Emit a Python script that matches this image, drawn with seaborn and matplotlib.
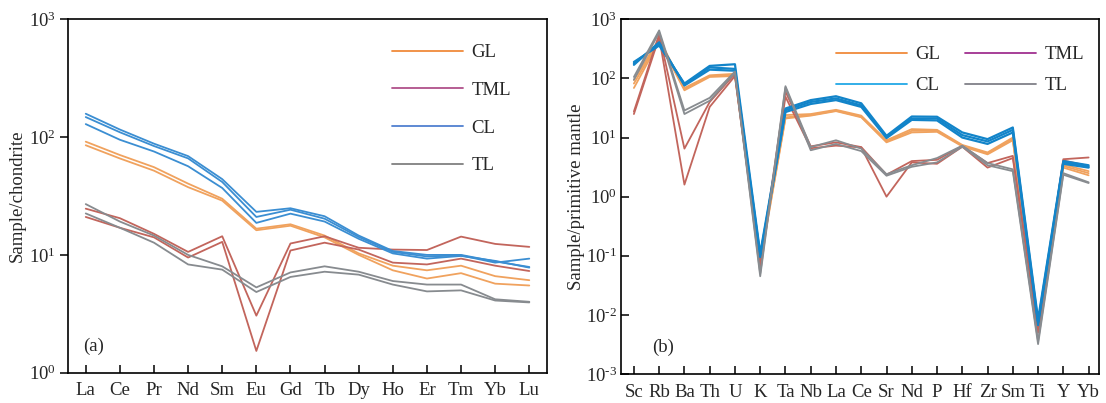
import numpy as np
import pandas as pd
import matplotlib
matplotlib.use("Agg")
import matplotlib.pyplot as plt
from matplotlib.lines import Line2D
from matplotlib.ticker import FuncFormatter, NullLocator
import seaborn as sns

# ---- chondrite-normalised REE (panel a) ----
ree = ["La", "Ce", "Pr", "Nd", "Sm", "Eu", "Gd", "Tb", "Dy", "Ho", "Er", "Tm", "Yb", "Lu"]

ree_GL1 = [91.5, 70.5, 55.6, 40.3, 30.0, 16.7, 18.2, 14.6, 10.3, 8.1, 7.4, 8.1, 6.6, 6.1]
ree_GL2 = [85.3, 65.9, 51.9, 37.6, 28.9, 16.2, 17.7, 14.1, 10.0, 7.4, 6.3, 7.0, 5.7, 5.5]
ree_TML1 = [24.7, 20.5, 15.1, 10.6, 14.4, 3.05, 12.5, 14.4, 11.5, 11.1, 11.0, 14.3, 12.4, 11.7]
ree_TML2 = [21.0, 17.0, 14.1, 9.5, 12.9, 1.53, 10.9, 12.7, 11.1, 8.6, 8.3, 9.3, 8.1, 7.3]
ree_CL1 = [158, 116, 88, 69, 44, 23.2, 24.9, 21.3, 14.6, 10.8, 10.0, 10.0, 8.8, 7.9]
ree_CL2 = [148, 110, 84, 66, 41.6, 21.0, 24.2, 20.3, 14.2, 10.6, 9.7, 9.9, 8.6, 9.3]
ree_CL3 = [129, 95, 75.5, 56.6, 37.0, 18.7, 22.4, 19.2, 13.7, 10.3, 9.3, 9.8, 8.9, 7.8]
ree_TL1 = [27.0, 19.2, 14.6, 10.0, 8.0, 5.3, 7.1, 8.0, 7.2, 6.0, 5.6, 5.6, 4.2, 4.0]
ree_TL2 = [22.5, 17.0, 12.7, 8.3, 7.5, 4.84, 6.5, 7.2, 6.8, 5.6, 4.9, 5.0, 4.1, 3.95]

# ---- primitive-mantle-normalised trace elements (panel b) ----
trace = ["Sc", "Rb", "Ba", "Th", "U", "K", "Ta", "Nb", "La", "Ce", "Sr", "Nd", "P", "Hf",
         "Zr", "Sm", "Ti", "Y", "Yb"]

tr_GL1 = [94, 466, 69, 113, 120, 0.085, 24, 25, 29.5, 23.5, 9.0, 13.9, 13.5, 7.5, 5.6, 10.0, 0.0058, 3.5, 2.7]
tr_GL2 = [82, 440, 66, 110, 115, 0.080, 22, 24, 28.5, 22.5, 8.6, 13.0, 13.0, 7.3, 5.4, 9.4, 0.0053, 3.3, 2.5]
tr_GL3 = [69, 420, 63, 106, 110, 0.075, 21, 23.5, 28.0, 22.0, 8.3, 12.2, 12.5, 7.1, 5.2, 9.0, 0.0050, 3.1, 2.3]
tr_TML1 = [27.6, 560, 6.5, 40, 120, 0.070, 60, 7.1, 8.3, 6.9, 2.35, 4.0, 4.2, 7.2, 3.7, 4.9, 0.0055, 4.3, 4.6]
tr_TML2 = [25.0, 500, 1.6, 33, 110, 0.065, 49, 6.6, 7.3, 6.8, 1.0, 3.8, 3.6, 7.0, 3.1, 4.5, 0.0050, 4.1, 3.3]
tr_CL1 = [190, 360, 82, 163, 174, 0.110, 31, 43, 50, 38, 10.7, 22.7, 22.5, 12.2, 9.4, 14.8, 0.0084, 4.0, 3.4]
tr_CL2 = [180, 390, 79, 154, 145, 0.100, 29, 40, 46, 35, 10.2, 21.0, 21.0, 11.0, 8.6, 13.5, 0.0075, 3.8, 3.2]
tr_CL3 = [170, 410, 76, 141, 135, 0.095, 27, 37, 43, 33, 9.8, 19.9, 19.5, 10.0, 7.8, 12.2, 0.0067, 3.6, 3.1]
tr_TL1 = [106, 650, 28.7, 47, 131, 0.050, 74, 6.9, 9.0, 6.5, 2.4, 3.4, 4.5, 7.3, 3.7, 2.9, 0.0036, 2.5, 1.75]
tr_TL2 = [95, 600, 25.0, 42, 125, 0.045, 70, 6.1, 7.8, 5.9, 2.26, 3.2, 3.8, 7.0, 3.4, 2.7, 0.0032, 2.35, 1.7]

groups = ["GL", "TML", "CL", "TL"]

ree_samples = {
    "GL": [ree_GL1, ree_GL2],
    "TML": [ree_TML1, ree_TML2],
    "CL": [ree_CL1, ree_CL2, ree_CL3],
    "TL": [ree_TL1, ree_TL2],
}
trace_samples = {
    "GL": [tr_GL1, tr_GL2, tr_GL3],
    "TML": [tr_TML1, tr_TML2],
    "CL": [tr_CL1, tr_CL2, tr_CL3],
    "TL": [tr_TL1, tr_TL2],
}


def to_long(elements, samples):
    rows = []
    for g, series in samples.items():
        for k, vals in enumerate(series):
            for i, (el, v) in enumerate(zip(elements, vals)):
                rows.append({"pos": i, "element": el, "value": v,
                             "group": g, "sample": f"{g}{k + 1}"})
    return pd.DataFrame(rows)


def decade_label(v, _pos):
    # power-of-ten label with a short hyphen for negative exponents
    e = int(round(np.log10(v)))
    exp = str(e).replace("-", "\u2010")
    return f"$10^{{{exp}}}$"


df_a = to_long(ree, ree_samples)
df_b = to_long(trace, trace_samples)

line_pal_a = {"GL": "#F0A25E", "TML": "#C2655C", "CL": "#3B8ED2", "TL": "#878B8F"}
line_pal_b = {"GL": "#F0A25E", "TML": "#C2655C", "CL": "#1284C9", "TL": "#888C90"}
legend_pal_a = {"GL": "#F08A3A", "TML": "#B0508A", "CL": "#5080D0", "TL": "#808080"}
legend_pal_b = {"GL": "#F08A3A", "TML": "#A03090", "CL": "#22A8E6", "TL": "#808088"}

sns.set_theme(style="white")
plt.rcParams["font.family"] = ["Liberation Serif", "DejaVu Serif"]
plt.rcParams["mathtext.fontset"] = "custom"
plt.rcParams["mathtext.rm"] = "Liberation Serif"
plt.rcParams["mathtext.it"] = "Liberation Serif:italic"
plt.rcParams["axes.edgecolor"] = "black"
plt.rcParams["axes.linewidth"] = 1.2

fig = plt.figure(figsize=(11.06, 4.03), dpi=100)
ax_a = fig.add_axes([0.0618, 0.0752, 0.4328, 0.8768])
ax_b = fig.add_axes([0.5615, 0.0720, 0.4319, 0.8800])

FS = 13.5

# ---- panel (a) ----
for g in groups:
    sub = df_a[df_a.group == g]
    sns.lineplot(data=sub, x="pos", y="value", units="sample", estimator=None,
                 color=line_pal_a[g], lw=1.3, ax=ax_a, legend=False)
ax_a.set_yscale("log")
ax_a.set_ylim(1, 1000)
ax_a.set_xlim(-0.51, len(ree) - 0.48)
ax_a.set_xticks(range(len(ree)))
ax_a.set_xticklabels(ree)
ax_a.set_yticks([1, 10, 100, 1000])
ax_a.yaxis.set_major_formatter(FuncFormatter(decade_label))
ax_a.yaxis.set_minor_locator(NullLocator())
ax_a.tick_params(axis="x", direction="in", length=6, width=1.1, labelsize=FS, pad=7,
                 bottom=True, color="black")
ax_a.tick_params(axis="y", direction="out", length=6, width=1.1, labelsize=FS, left=True,
                 color="black", pad=3)
ax_a.set_xlabel("")
ax_a.set_ylabel("Sample/chondrite", fontsize=FS)
ax_a.yaxis.set_label_coords(-0.088, 0.5)
ax_a.text(0.03, 0.05, "(a)", transform=ax_a.transAxes, fontsize=FS, ha="left", va="bottom")
handles_a = [Line2D([], [], color=legend_pal_a[g], lw=1.3) for g in groups]
ax_a.legend(handles_a, groups, loc="upper left", bbox_to_anchor=(0.676, 0.93),
            frameon=False, fontsize=FS, handlelength=3.8, handletextpad=0.45,
            labelspacing=1.1, borderpad=0, borderaxespad=0)

# ---- panel (b) ----
for g in groups:
    sub = df_b[df_b.group == g]
    sns.lineplot(data=sub, x="pos", y="value", units="sample", estimator=None,
                 color=line_pal_b[g], lw=1.6 if g == "CL" else 1.3, ax=ax_b, legend=False)
ax_b.set_yscale("log")
ax_b.set_ylim(1e-3, 1e3)
ax_b.set_xlim(-0.51, len(trace) - 0.6)
ax_b.set_xticks(range(len(trace)))
ax_b.set_xticklabels(trace)
ax_b.set_yticks([1e-3, 1e-2, 1e-1, 1, 10, 100, 1000])
ax_b.yaxis.set_major_formatter(FuncFormatter(decade_label))
ax_b.yaxis.set_minor_locator(NullLocator())
ax_b.tick_params(axis="x", direction="in", length=6, width=1.1, labelsize=FS, pad=7,
                 bottom=True, color="black")
ax_b.tick_params(axis="y", direction="in", length=6, width=1.1, labelsize=FS, left=True,
                 color="black", pad=3)
ax_b.set_xlabel("")
ax_b.set_ylabel("Sample/primitive mantle", fontsize=FS)
ax_b.yaxis.set_label_coords(-0.076, 0.5)
ax_b.text(0.065, 0.05, "(b)", transform=ax_b.transAxes, fontsize=FS, ha="left", va="bottom")
handles_b = [Line2D([], [], color=legend_pal_b[g], lw=1.3) for g in groups]
ax_b.legend([handles_b[0], handles_b[2], handles_b[1], handles_b[3]],
            ["GL", "CL", "TML", "TL"], ncol=2, loc="upper left",
            bbox_to_anchor=(0.45, 0.925), frameon=False, fontsize=FS, handlelength=3.8,
            handletextpad=0.45, labelspacing=0.75, columnspacing=1.3,
            borderpad=0, borderaxespad=0)

fig.savefig("out.png", dpi=100)
